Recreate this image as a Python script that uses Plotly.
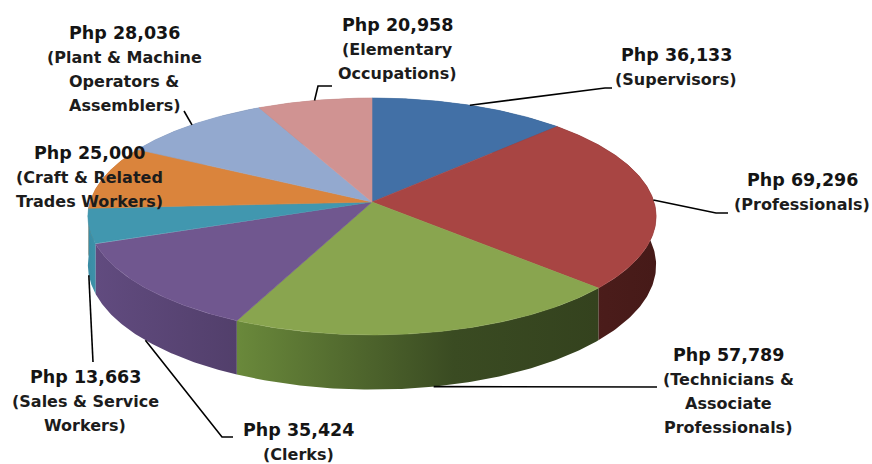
import numpy as np
import plotly.graph_objects as go

# ---------------- data ----------------
categories = ["Supervisors", "Professionals", "Technicians & Associate Professionals",
              "Clerks", "Sales & Service Workers", "Craft & Related Trades Workers",
              "Plant & Machine Operators & Assemblers", "Elementary Occupations"]
values = [36133, 69296, 57789, 35424, 13663, 25000, 28036, 20958]
category_lines = [["(Supervisors)"], ["(Professionals)"],
                  ["(Technicians &", "Associate", "Professionals)"], ["(Clerks)"],
                  ["(Sales & Service", "Workers)"], ["(Craft & Related", "Trades Workers)"],
                  ["(Plant & Machine", "Operators &", "Assemblers)"],
                  ["(Elementary", "Occupations)"]]

# ---------------- styles / layout ----------------
top_colors = ["#4270A6", "#A84543", "#89A54F", "#70578F", "#4197AF", "#DA843C", "#93A9CF", "#D09392"]
side_scales = [
    [[0, "#2C4D75"], [1, "#223C5C"]],
    [[0, "#4E1E1C"], [1, "#461A18"]],
    [[0, "#6A893B"], [0.6, "#3A4B22"], [1, "#34421E"]],
    [[0, "#614B7F"], [1, "#523F6B"]],
    [[0, "#3A8BA3"], [1, "#3D92AA"]],
    [[0, "#9A5C2A"], [1, "#8A5225"]],
    [[0, "#6A7B98"], [1, "#5E6E8A"]],
    [[0, "#9A6B6A"], [1, "#8E6261"]],
]
CX, CY, RA, RB, K, DEPTH = 372.0, 202.0, 282.0, 116.7, 0.122, 48.0

label_x = [676, 802, 728, 298, 85, 89, 124, 397]
label_y = [55, 180, 355, 430, 377, 153, 33, 25]
CAT_GAP = 24
LINE_GAP = 24
leader_ends = [[(605, 88), (612, 88)], [(716, 213), (728, 213)], [(657, 387)],
               [(222, 437), (233, 437)], [(93, 362)], [], [(184, 111)],
               [(318, 86), (332, 86)]]
FONT = "DejaVu Sans"


def proj(phi, z=0.0):
    w = 1.0 + K * np.sin(phi)
    x = CX + RA * np.cos(phi) / w
    y = CY - RB * np.sin(phi) / w + z * DEPTH / w
    return x, y


vals = np.array(values, dtype=float)
frac = vals / vals.sum()
cum = np.concatenate([[0.0], np.cumsum(frac)])
phi_start = np.pi / 2 - 2 * np.pi * cum[:-1]
phi_end = np.pi / 2 - 2 * np.pi * cum[1:]

fig = go.Figure()

# side walls (back to front)
order = sorted(range(len(values)), key=lambda i: -np.sin((phi_start[i] + phi_end[i]) / 2))
for i in order:
    ph = np.linspace(phi_start[i], phi_end[i], 120)
    xt, yt = proj(ph, 0)
    xb, yb = proj(ph, 1)
    xs = np.concatenate([xt, xb[::-1], xt[:1]])
    ys = np.concatenate([yt, yb[::-1], yt[:1]])
    fig.add_trace(go.Scatter(x=xs, y=ys, mode="lines", line=dict(width=0),
                             fill="toself", fillcolor=top_colors[i],
                             fillgradient=dict(type="horizontal", colorscale=side_scales[i]),
                             hoverinfo="skip", showlegend=False))

# top faces
for i in range(len(values)):
    ph = np.linspace(phi_start[i], phi_end[i], 160)
    xt, yt = proj(ph, 0)
    xs = np.concatenate([[CX], xt, [CX]])
    ys = np.concatenate([[CY], yt, [CY]])
    fig.add_trace(go.Scatter(x=xs, y=ys, mode="lines", line=dict(width=0.6, color=top_colors[i]),
                             fill="toself", fillcolor=top_colors[i],
                             name=categories[i], text=f"{categories[i]}: Php {values[i]:,}",
                             hoverinfo="text", showlegend=False))

# leader lines
for i in range(len(values)):
    if not leader_ends[i]:
        continue
    mid = (phi_start[i] + phi_end[i]) / 2
    z = 1.0 if np.sin(mid) < -0.1 else 0.0
    x0, y0 = proj(mid, z)
    px = [x0] + [p[0] for p in leader_ends[i]]
    py = [y0] + [p[1] for p in leader_ends[i]]
    fig.add_trace(go.Scatter(x=px, y=py, mode="lines", line=dict(color="black", width=1.6),
                             hoverinfo="skip", showlegend=False))

# labels
annotations = []
for i in range(len(values)):
    annotations.append(dict(x=label_x[i], y=label_y[i], xref="x", yref="y",
                            text=f"<b>Php {values[i]:,}</b>", showarrow=False,
                            xanchor="center", yanchor="middle",
                            font=dict(family=FONT, size=17.5, color="#141414")))
    for j, line in enumerate(category_lines[i]):
        annotations.append(dict(x=label_x[i], y=label_y[i] + CAT_GAP + j * LINE_GAP,
                                xref="x", yref="y", text=f"<b>{line}</b>", showarrow=False,
                                xanchor="center", yanchor="middle",
                                font=dict(family=FONT, size=16, color="#1c1c1c")))

fig.update_layout(
    width=872, height=464, autosize=False,
    margin=dict(l=0, r=0, t=0, b=0),
    paper_bgcolor="white", plot_bgcolor="white",
    xaxis=dict(range=[0, 872], visible=False, fixedrange=True),
    yaxis=dict(range=[464, 0], visible=False, fixedrange=True),
    annotations=annotations,
)

fig.write_html("out.html", config={"displayModeBar": False},
               post_script="document.body.style.margin='0';")
